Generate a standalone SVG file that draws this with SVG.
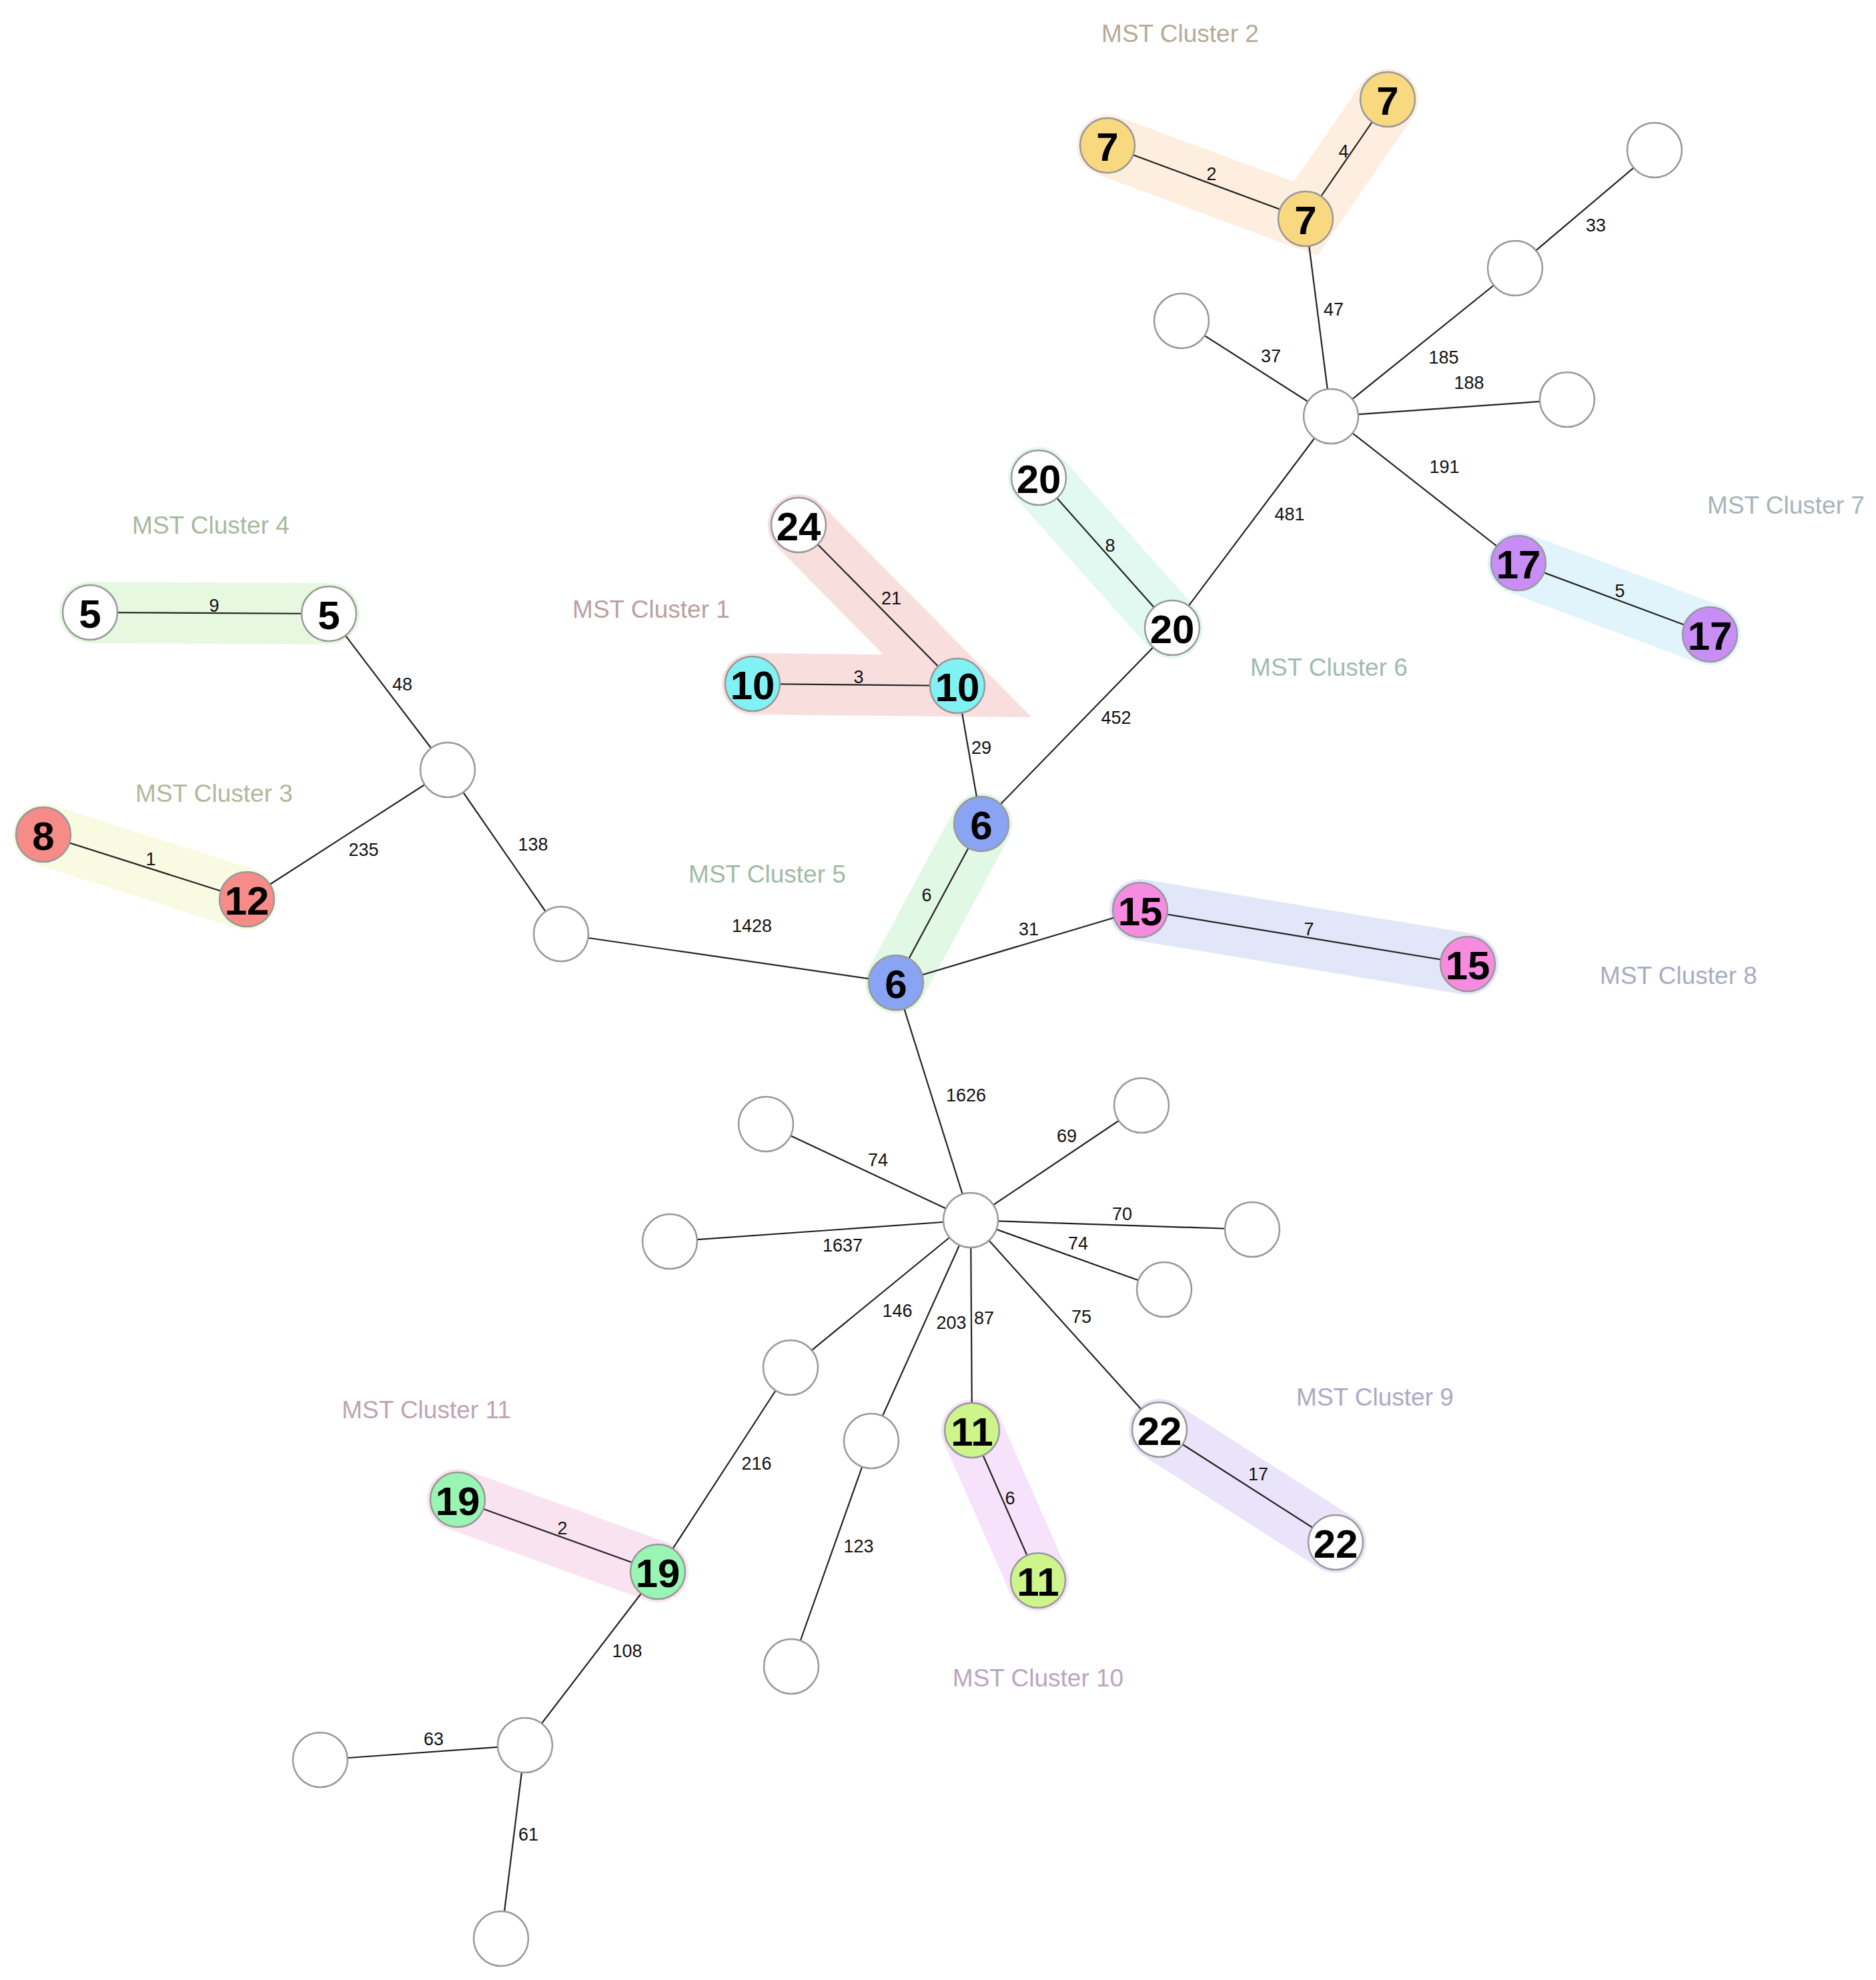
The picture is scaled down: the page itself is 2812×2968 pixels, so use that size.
<svg xmlns="http://www.w3.org/2000/svg" width="2812" height="2968" viewBox="0 0 2812 2968">
<style>
.band{fill:none;stroke-width:92;stroke-linecap:round}
.e{stroke:#222;stroke-width:2.2;fill:none}
.n{stroke:#999;stroke-width:2.5}
.w{fill:#fff}
.t{font-family:"Liberation Sans",Arial,sans-serif;font-weight:bold;font-size:60px;fill:#000;text-anchor:middle;dominant-baseline:central}
.el{font-family:"Liberation Sans",Arial,sans-serif;font-size:27px;fill:#111;text-anchor:middle;dominant-baseline:central}
.cl{font-family:"Liberation Sans",Arial,sans-serif;font-size:37px;text-anchor:middle;dominant-baseline:central}
</style>
<rect width="2812" height="2968" fill="#fff"/>
<g id="bands">
<polyline class="band" stroke="#f9dede" points="1197,787 1435,1028 1128,1025"/>
<polyline class="band" stroke="#fdeedf" points="1660,218 1957,328 2080,149"/>
<line class="band" stroke="#f8fae2" x1="65" y1="1251" x2="370" y2="1348"/>
<line class="band" stroke="#e6f8e0" x1="135" y1="918" x2="493" y2="920"/>
<line class="band" stroke="#e1f8e4" x1="1471" y1="1235" x2="1343" y2="1473"/>
<line class="band" stroke="#e2f9f1" x1="1557" y1="716" x2="1757" y2="941"/>
<line class="band" stroke="#e1f4fb" x1="2276" y1="844" x2="2563" y2="951"/>
<line class="band" stroke="#e2e6f9" x1="1709" y1="1364" x2="2200" y2="1445"/>
<line class="band" stroke="#eae4fb" x1="1738" y1="2143" x2="2002" y2="2312"/>
<line class="band" stroke="#f6e2fa" x1="1457" y1="2144" x2="1556" y2="2369"/>
<line class="band" stroke="#fae3f1" x1="686" y1="2248" x2="986" y2="2356"/>
</g>
<g id="connectors">
<line class="e" x1="135" y1="918" x2="493" y2="920"/>
<line class="e" x1="493" y1="920" x2="671" y2="1154"/>
<line class="e" x1="65" y1="1251" x2="370" y2="1348"/>
<line class="e" x1="370" y1="1348" x2="671" y2="1154"/>
<line class="e" x1="671" y1="1154" x2="841" y2="1400"/>
<line class="e" x1="841" y1="1400" x2="1343" y2="1473"/>
<line class="e" x1="1197" y1="787" x2="1435" y2="1028"/>
<line class="e" x1="1128" y1="1025" x2="1435" y2="1028"/>
<line class="e" x1="1435" y1="1028" x2="1471" y2="1235"/>
<line class="e" x1="1471" y1="1235" x2="1343" y2="1473"/>
<line class="e" x1="1471" y1="1235" x2="1757" y2="941"/>
<line class="e" x1="1557" y1="716" x2="1757" y2="941"/>
<line class="e" x1="1757" y1="941" x2="1995" y2="624"/>
<line class="e" x1="1660" y1="218" x2="1957" y2="328"/>
<line class="e" x1="2080" y1="149" x2="1957" y2="328"/>
<line class="e" x1="1957" y1="328" x2="1995" y2="624"/>
<line class="e" x1="1771" y1="481" x2="1995" y2="624"/>
<line class="e" x1="2271" y1="402" x2="1995" y2="624"/>
<line class="e" x1="2271" y1="402" x2="2480" y2="225"/>
<line class="e" x1="2349" y1="599" x2="1995" y2="624"/>
<line class="e" x1="2276" y1="844" x2="1995" y2="624"/>
<line class="e" x1="2276" y1="844" x2="2563" y2="951"/>
<line class="e" x1="1343" y1="1473" x2="1709" y2="1364"/>
<line class="e" x1="1709" y1="1364" x2="2200" y2="1445"/>
<line class="e" x1="1343" y1="1473" x2="1455" y2="1829"/>
<line class="e" x1="1148" y1="1685" x2="1455" y2="1829"/>
<line class="e" x1="1004" y1="1861" x2="1455" y2="1829"/>
<line class="e" x1="1711" y1="1657" x2="1455" y2="1829"/>
<line class="e" x1="1877" y1="1843" x2="1455" y2="1829"/>
<line class="e" x1="1745" y1="1933" x2="1455" y2="1829"/>
<line class="e" x1="1185" y1="2050" x2="1455" y2="1829"/>
<line class="e" x1="1306" y1="2160" x2="1455" y2="1829"/>
<line class="e" x1="1457" y1="2144" x2="1455" y2="1829"/>
<line class="e" x1="1738" y1="2143" x2="1455" y2="1829"/>
<line class="e" x1="1457" y1="2144" x2="1556" y2="2369"/>
<line class="e" x1="1738" y1="2143" x2="2002" y2="2312"/>
<line class="e" x1="1185" y1="2050" x2="986" y2="2356"/>
<line class="e" x1="686" y1="2248" x2="986" y2="2356"/>
<line class="e" x1="986" y1="2356" x2="787" y2="2616"/>
<line class="e" x1="1306" y1="2160" x2="1186" y2="2498"/>
<line class="e" x1="480" y1="2638" x2="787" y2="2616"/>
<line class="e" x1="751" y1="2906" x2="787" y2="2616"/>
</g>
<g id="edge-labels">
<text class="el" x="321" y="908">9</text><text class="el" x="603" y="1026">48</text>
<text class="el" x="1287" y="1015">3</text><text class="el" x="1336" y="897">21</text>
<text class="el" x="226" y="1288">1</text><text class="el" x="545" y="1274">235</text>
<text class="el" x="799" y="1266">138</text><text class="el" x="1127" y="1388">1428</text>
<text class="el" x="1816" y="261">2</text><text class="el" x="2014" y="227">4</text>
<text class="el" x="1999" y="464">47</text><text class="el" x="1905" y="534">37</text>
<text class="el" x="2164" y="536">185</text><text class="el" x="2202" y="574">188</text>
<text class="el" x="2392" y="338">33</text><text class="el" x="2165" y="700">191</text>
<text class="el" x="1933" y="771">481</text><text class="el" x="1664" y="818">8</text>
<text class="el" x="2428" y="886">5</text><text class="el" x="1673" y="1076">452</text>
<text class="el" x="1471" y="1121">29</text><text class="el" x="1542" y="1393">31</text>
<text class="el" x="1962" y="1393">7</text><text class="el" x="1389" y="1342">6</text>
<text class="el" x="1316" y="1739">74</text><text class="el" x="1263" y="1867">1637</text>
<text class="el" x="1345" y="1965">146</text><text class="el" x="1134" y="2194">216</text>
<text class="el" x="843" y="2291">2</text><text class="el" x="940" y="2475">108</text>
<text class="el" x="1287" y="2318">123</text><text class="el" x="650" y="2607">63</text>
<text class="el" x="792" y="2750">61</text><text class="el" x="1448" y="1642">1626</text>
<text class="el" x="1599" y="1703">69</text><text class="el" x="1682" y="1820">70</text>
<text class="el" x="1616" y="1864">74</text><text class="el" x="1426" y="1983">203</text>
<text class="el" x="1475" y="1976">87</text><text class="el" x="1621" y="1974">75</text>
<text class="el" x="1514" y="2246">6</text><text class="el" x="1886" y="2210">17</text>
</g>
<g id="cluster-labels">
<text class="cl" fill="#baa0a0" x="976" y="913">MST Cluster 1</text>
<text class="cl" fill="#b5aa98" x="1769" y="50">MST Cluster 2</text>
<text class="cl" fill="#b4b69e" x="321" y="1189">MST Cluster 3</text>
<text class="cl" fill="#a9b8a0" x="316" y="787">MST Cluster 4</text>
<text class="cl" fill="#a0baa6" x="1150" y="1310">MST Cluster 5</text>
<text class="cl" fill="#a0bab4" x="1992" y="1000">MST Cluster 6</text>
<text class="cl" fill="#a6b4ba" x="2677" y="757">MST Cluster 7</text>
<text class="cl" fill="#a8acc2" x="2516" y="1462">MST Cluster 8</text>
<text class="cl" fill="#ada8c4" x="2061" y="2094">MST Cluster 9</text>
<text class="cl" fill="#bba4c4" x="1556" y="2515">MST Cluster 10</text>
<text class="cl" fill="#bba4b4" x="639" y="2113">MST Cluster 11</text>
</g>
<g id="n5a"><circle class="n w" cx="135" cy="918" r="41"/><text class="t" x="135" y="920">5</text></g>
<g id="n5b"><circle class="n w" cx="493" cy="920" r="41"/><text class="t" x="493" y="922">5</text></g>
<g id="hA"><circle class="n w" cx="671" cy="1154" r="41"/></g>
<g id="n8"><circle class="n" fill="#f78b87" cx="65" cy="1251" r="41"/><text class="t" x="65" y="1253">8</text></g>
<g id="n12"><circle class="n" fill="#f78b87" cx="370" cy="1348" r="41"/><text class="t" x="370" y="1350">12</text></g>
<g id="hB"><circle class="n w" cx="841" cy="1400" r="41"/></g>
<g id="n24"><circle class="n w" cx="1197" cy="787" r="41"/><text class="t" x="1197" y="789">24</text></g>
<g id="n10a"><circle class="n" fill="#80f2f4" cx="1128" cy="1025" r="41"/><text class="t" x="1128" y="1027">10</text></g>
<g id="n10b"><circle class="n" fill="#80f2f4" cx="1435" cy="1028" r="41"/><text class="t" x="1435" y="1030">10</text></g>
<g id="n6a"><circle class="n" fill="#8aa4f4" cx="1471" cy="1235" r="41"/><text class="t" x="1471" y="1237">6</text></g>
<g id="n6b"><circle class="n" fill="#8aa4f4" cx="1343" cy="1473" r="41"/><text class="t" x="1343" y="1475">6</text></g>
<g id="n20a"><circle class="n w" cx="1557" cy="716" r="41"/><text class="t" x="1557" y="718">20</text></g>
<g id="n20b"><circle class="n w" cx="1757" cy="941" r="41"/><text class="t" x="1757" y="943">20</text></g>
<g id="n7a"><circle class="n" fill="#f9d97f" cx="1660" cy="218" r="41"/><text class="t" x="1660" y="220">7</text></g>
<g id="n7b"><circle class="n" fill="#f9d97f" cx="2080" cy="149" r="41"/><text class="t" x="2080" y="151">7</text></g>
<g id="n7c"><circle class="n" fill="#f9d97f" cx="1957" cy="328" r="41"/><text class="t" x="1957" y="330">7</text></g>
<g id="hC"><circle class="n w" cx="1995" cy="624" r="41"/></g>
<g id="e1"><circle class="n w" cx="2480" cy="225" r="41"/></g>
<g id="e2"><circle class="n w" cx="2271" cy="402" r="41"/></g>
<g id="e3"><circle class="n w" cx="1771" cy="481" r="41"/></g>
<g id="e4"><circle class="n w" cx="2349" cy="599" r="41"/></g>
<g id="n17a"><circle class="n" fill="#c98ef6" cx="2276" cy="844" r="41"/><text class="t" x="2276" y="846">17</text></g>
<g id="n17b"><circle class="n" fill="#c98ef6" cx="2563" cy="951" r="41"/><text class="t" x="2563" y="953">17</text></g>
<g id="n15a"><circle class="n" fill="#f78be0" cx="1709" cy="1364" r="41"/><text class="t" x="1709" y="1366">15</text></g>
<g id="n15b"><circle class="n" fill="#f78be0" cx="2200" cy="1445" r="41"/><text class="t" x="2200" y="1447">15</text></g>
<g id="hD"><circle class="n w" cx="1455" cy="1829" r="41"/></g>
<g id="e5"><circle class="n w" cx="1148" cy="1685" r="41"/></g>
<g id="e6"><circle class="n w" cx="1004" cy="1861" r="41"/></g>
<g id="e7"><circle class="n w" cx="1185" cy="2050" r="41"/></g>
<g id="e8"><circle class="n w" cx="1306" cy="2160" r="41"/></g>
<g id="e9"><circle class="n w" cx="1186" cy="2498" r="41"/></g>
<g id="e12"><circle class="n w" cx="1711" cy="1657" r="41"/></g>
<g id="e13"><circle class="n w" cx="1877" cy="1843" r="41"/></g>
<g id="e14"><circle class="n w" cx="1745" cy="1933" r="41"/></g>
<g id="n11a"><circle class="n" fill="#cdf58b" cx="1457" cy="2144" r="41"/><text class="t" x="1457" y="2146">11</text></g>
<g id="n11b"><circle class="n" fill="#cdf58b" cx="1556" cy="2369" r="41"/><text class="t" x="1556" y="2371">11</text></g>
<g id="n22a"><circle class="n w" cx="1738" cy="2143" r="41"/><text class="t" x="1738" y="2145">22</text></g>
<g id="n22b"><circle class="n w" cx="2002" cy="2312" r="41"/><text class="t" x="2002" y="2314">22</text></g>
<g id="n19a"><circle class="n" fill="#99f5b4" cx="686" cy="2248" r="41"/><text class="t" x="686" y="2250">19</text></g>
<g id="n19b"><circle class="n" fill="#99f5b4" cx="986" cy="2356" r="41"/><text class="t" x="986" y="2358">19</text></g>
<g id="hE"><circle class="n w" cx="787" cy="2616" r="41"/></g>
<g id="e10"><circle class="n w" cx="480" cy="2638" r="41"/></g>
<g id="e11"><circle class="n w" cx="751" cy="2906" r="41"/></g>
</svg>
